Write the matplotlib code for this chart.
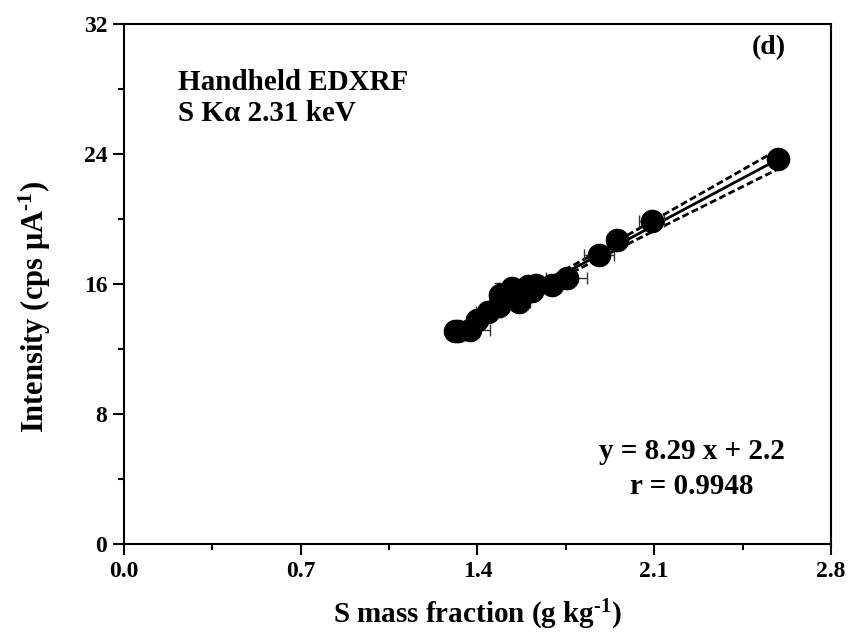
import matplotlib.pyplot as plt
import numpy as np

plt.rcParams['font.family'] = ['Liberation Serif', 'DejaVu Serif']
plt.rcParams['font.weight'] = 'bold'
plt.rcParams['axes.labelweight'] = 'bold'
plt.rcParams['mathtext.fontset'] = 'custom'
plt.rcParams['mathtext.rm'] = 'Liberation Serif:bold'
plt.rcParams['mathtext.bf'] = 'Liberation Serif:bold'
plt.rcParams['mathtext.it'] = 'Liberation Serif:bold:italic'
plt.rcParams['mathtext.default'] = 'bf'

# S mass fraction (g/kg) vs intensity (cps/uA)
s_mass = [1.311, 1.324, 1.370, 1.397, 1.443, 1.486, 1.489, 1.535, 1.566,
          1.601, 1.615, 1.632, 1.694, 1.753, 1.882, 1.951, 2.090, 2.589]
intensity = [13.08, 13.08, 13.19, 13.80, 14.25, 14.62, 15.34, 15.75, 14.87,
             15.85, 15.55, 15.96, 15.96, 16.37, 17.76, 18.73, 19.90, 23.71]
s_err = [0.03, 0.03, 0.08, 0.04, 0.05, 0.04, 0.04, 0.05, 0.04,
         0.05, 0.04, 0.05, 0.04, 0.08, 0.06, 0.04, 0.05, 0.03]
i_err = [0.30, 0.25, 0.30, 0.35, 0.30, 0.35, 0.70, 0.45, 0.40,
         0.50, 0.45, 0.40, 0.35, 0.35, 0.40, 0.30, 0.35, 0.30]

slope, intercept = 8.29, 2.2

x = np.array(s_mass)
y = np.array(intensity)
n = len(x)

# fit line and 95% confidence band
xf = np.linspace(x.min(), x.max(), 200)
yf = slope * xf + intercept
resid = y - (slope * x + intercept)
se = np.sqrt(np.sum(resid ** 2) / (n - 2))
sxx = np.sum((x - x.mean()) ** 2)
band = 2.11 * se * np.sqrt(1 / n + (xf - x.mean()) ** 2 / sxx)

fig = plt.figure(figsize=(8.51, 6.44), dpi=100)
ax = fig.add_axes([0.1457, 0.1553, 0.8308, 0.8074])

ax.errorbar(x, y, xerr=s_err, yerr=i_err, fmt='o', color='black',
            ecolor='#333333', elinewidth=1, capsize=4, capthick=1,
            markersize=16, zorder=3)
ax.plot(xf, yf, color='black', lw=2, zorder=2)
ax.plot(xf, yf + band, color='black', lw=2, ls=(0, (2.5, 1.2)), zorder=2)
ax.plot(xf, yf - band, color='black', lw=2, ls=(0, (2.5, 1.2)), zorder=2)

ax.set_xlim(0, 2.8)
ax.set_ylim(0, 32)
ax.set_xticks([0.0, 0.7, 1.4, 2.1, 2.8])
ax.set_xticks([0.35, 1.05, 1.75, 2.45], minor=True)
ax.set_yticks([0, 8, 16, 24, 32])
ax.set_yticks([4, 12, 20, 28], minor=True)
ax.xaxis.set_major_formatter(plt.FormatStrFormatter('%.1f'))

for sp in ax.spines.values():
    sp.set_linewidth(1.5)
ax.tick_params(which='major', direction='out', length=8, width=1.5,
               labelsize=17, pad=4)
ax.tick_params(which='minor', direction='out', length=4, width=1.5)
ax.tick_params(top=False, right=False)

ax.set_xlabel(r'S mass fraction (g kg$^{\text{-}1}$)', fontsize=21, labelpad=12)
ax.set_ylabel('Intensity (cps \u03bcA$^{\\text{-}1}$)', fontsize=22, labelpad=8)
ax.yaxis.set_label_coords(-0.1, 0.456)

ax.text(0.076, 0.888, 'Handheld EDXRF', transform=ax.transAxes,
        fontsize=21, va='center')
ax.text(0.076, 0.827, 'S K\u03b1 2.31 keV', transform=ax.transAxes,
        fontsize=21, va='center')
ax.text(0.912, 0.955, '(d)', transform=ax.transAxes, fontsize=20,
        ha='center', va='center')
ax.text(0.803, 0.177, 'y = 8.29 x + 2.2', transform=ax.transAxes,
        fontsize=21, ha='center', va='center')
ax.text(0.803, 0.11, 'r = 0.9948', transform=ax.transAxes,
        fontsize=21, ha='center', va='center')

fig.savefig('out.png', dpi=100)
